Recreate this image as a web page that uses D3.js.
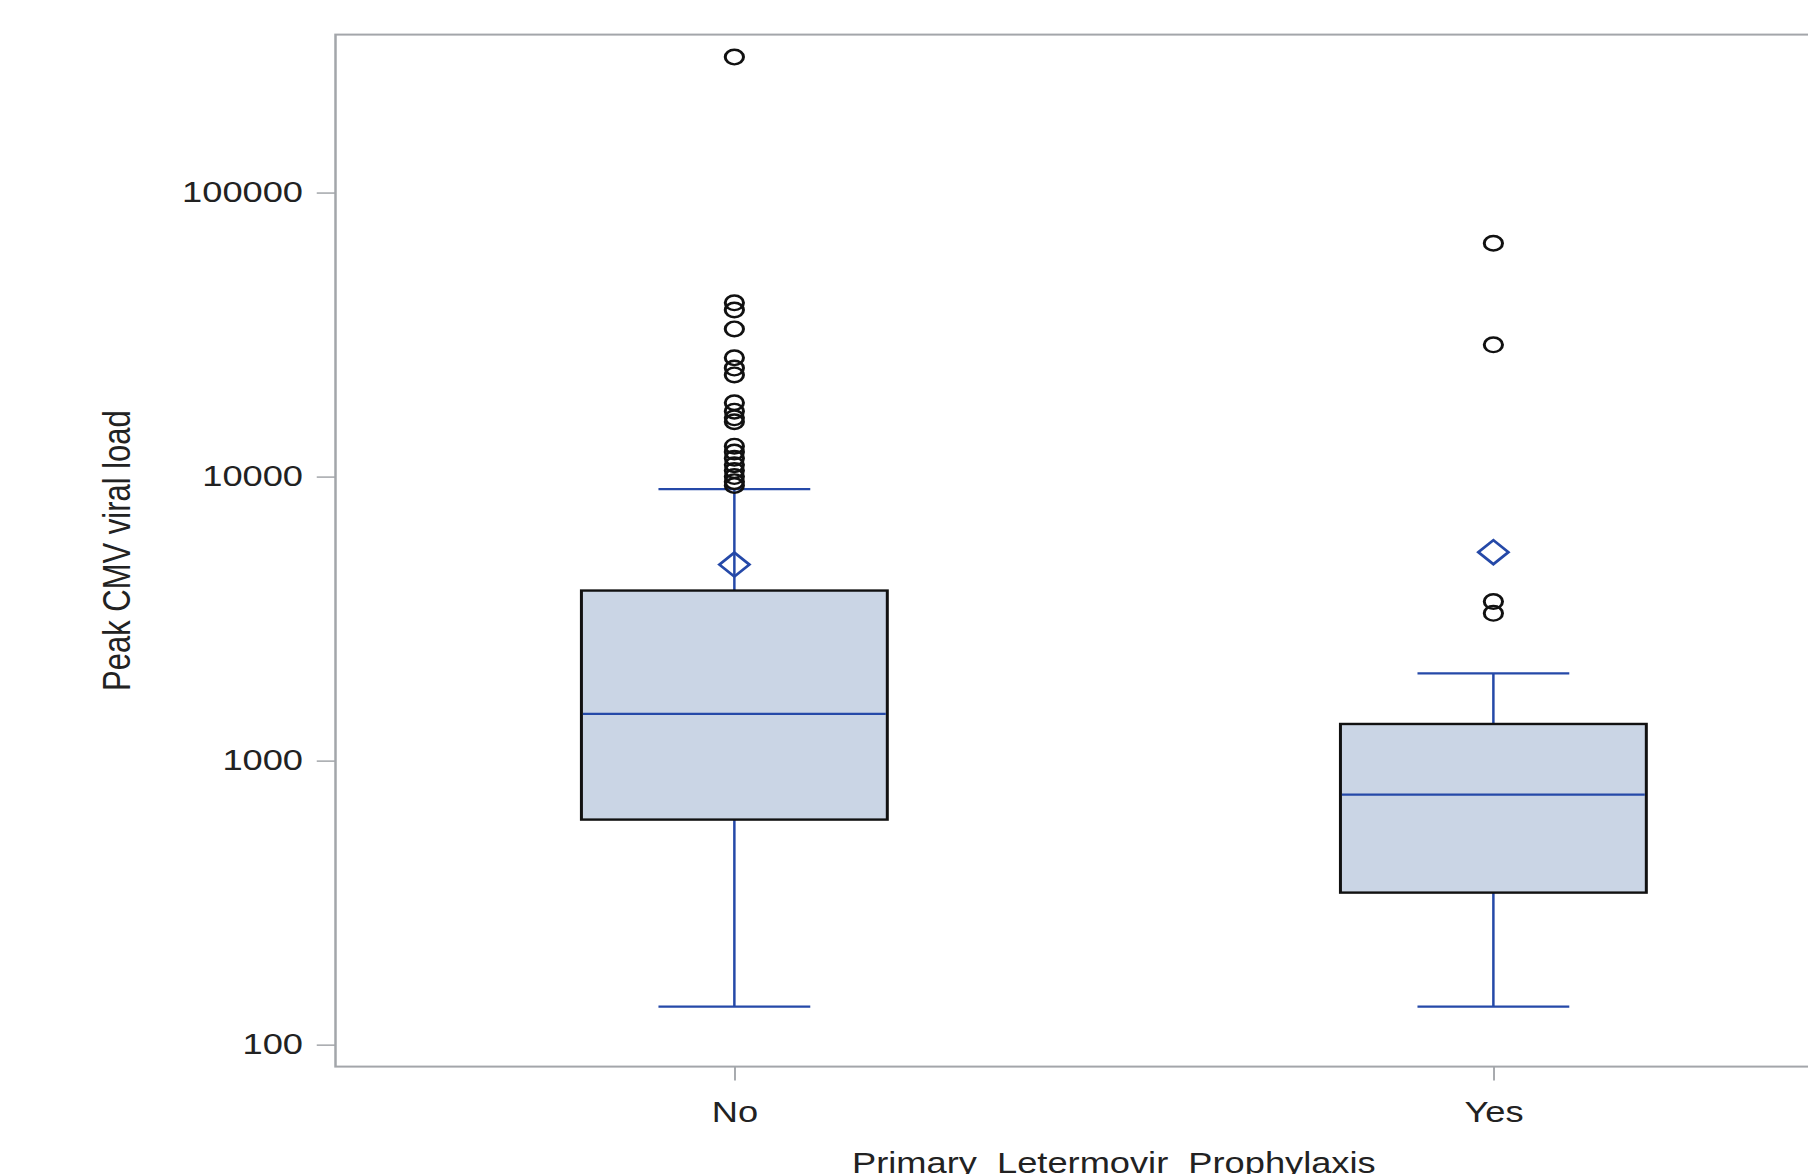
<!DOCTYPE html>
<html lang="en">
<head>
<meta charset="utf-8">
<title>Peak CMV viral load</title>
<script src="https://d3js.org/d3.v7.min.js"></script>
<style>
body { margin: 0; background: #fff; overflow: hidden; }
svg { display: block; }
text { font-family: "Liberation Sans", Arial, sans-serif; fill: #222; }
</style>
</head>
<body>
<svg id="chart"></svg>
<script>
// box statistics per group
var groups = ["No", "Yes"];
var whiskerLow = [136, 136];
var q1 = [620, 343];
var median = [1460, 759];
var q3 = [3970, 1346];
var whiskerHigh = [9030, 2030];
var means = [4900, 5420];

var outliersNo = [300000, 40900, 38600, 33100, 26200, 24100, 22800, 18200, 17000,
                  16100, 15600, 12800, 12200, 11600, 11000, 10500, 10000, 9600, 9300];
var outliersYes = [66300, 29100, 3630, 3300];

var yTicks = [100, 1000, 10000, 100000];

// the picture is stretched sideways, so draw in an inner space and stretch it
var W = 1808, H = 1174, stretch = 1.25;
var iw = W / stretch;

var svg = d3.select("#chart")
    .attr("width", W)
    .attr("height", H)
    .attr("viewBox", "0 0 " + iw + " " + H)
    .attr("preserveAspectRatio", "none");

var x = d3.scalePoint()
    .domain(groups)
    .range([268.4, 1513.8])
    .padding(0.5255);

var y = d3.scaleLog()
    .domain([83.7, 359900])
    .range([1066.6, 34.6]);

var step = x.step(),
    boxW = step * 0.403,
    capW = step * 0.2;

var blue = "#2549a8";

// frame
svg.append("rect")
    .attr("x", x.range()[0])
    .attr("y", y.range()[1])
    .attr("width", x.range()[1] - x.range()[0])
    .attr("height", y.range()[0] - y.range()[1])
    .attr("fill", "none")
    .attr("stroke", "#a3a6aa")
    .attr("stroke-width", 2);

// axes
var yAxis = svg.append("g")
    .attr("transform", "translate(" + x.range()[0] + ",0)")
    .call(d3.axisLeft(y).tickValues(yTicks).tickFormat(d3.format("d")).tickSize(15).tickPadding(11));

var xAxis = svg.append("g")
    .attr("transform", "translate(0," + y.range()[0] + ")")
    .call(d3.axisBottom(x).tickSize(14).tickPadding(21));

[yAxis, xAxis].forEach(function(g) {
  g.select(".domain").remove();
  g.selectAll(".tick line").attr("stroke", "#a3a6aa").attr("stroke-width", 1.5);
  g.selectAll(".tick text").attr("font-size", 29).attr("fill", "#222")
      .style("font-family", "'Liberation Sans', Arial, sans-serif");
});

// axis titles
svg.append("text")
    .attr("transform", "translate(104," + (y.range()[0] + y.range()[1]) / 2 + ") rotate(-90)")
    .attr("text-anchor", "middle")
    .attr("font-size", 31)
    .text("Peak CMV viral load");

svg.append("text")
    .attr("x", (x.range()[0] + x.range()[1]) / 2)
    .attr("y", 1173)
    .attr("text-anchor", "middle")
    .attr("font-size", 29)
    .text("Primary_Letermovir_Prophylaxis");

var stats = groups.map(function(g, i) {
  return { g: g, lo: whiskerLow[i], q1: q1[i], med: median[i], q3: q3[i], hi: whiskerHigh[i], mean: means[i] };
});

var box = svg.selectAll(".box")
    .data(stats)
  .enter().append("g")
    .attr("class", "box");

// whiskers
box.append("line")
    .attr("x1", function(d) { return x(d.g); })
    .attr("x2", function(d) { return x(d.g); })
    .attr("y1", function(d) { return y(d.q3); })
    .attr("y2", function(d) { return y(d.hi); })
    .attr("stroke", blue).attr("stroke-width", 2);

box.append("line")
    .attr("x1", function(d) { return x(d.g); })
    .attr("x2", function(d) { return x(d.g); })
    .attr("y1", function(d) { return y(d.q1); })
    .attr("y2", function(d) { return y(d.lo); })
    .attr("stroke", blue).attr("stroke-width", 2);

box.selectAll(".cap")
    .data(function(d) { return [{ g: d.g, v: d.hi }, { g: d.g, v: d.lo }]; })
  .enter().append("line")
    .attr("class", "cap")
    .attr("x1", function(d) { return x(d.g) - capW / 2; })
    .attr("x2", function(d) { return x(d.g) + capW / 2; })
    .attr("y1", function(d) { return y(d.v); })
    .attr("y2", function(d) { return y(d.v); })
    .attr("stroke", blue).attr("stroke-width", 2.2);

// boxes
box.append("rect")
    .attr("x", function(d) { return x(d.g) - boxW / 2; })
    .attr("y", function(d) { return y(d.q3); })
    .attr("width", boxW)
    .attr("height", function(d) { return y(d.q1) - y(d.q3); })
    .attr("fill", "#cad5e5")
    .attr("stroke", "#111")
    .attr("stroke-width", 2.4);

// medians
box.append("line")
    .attr("x1", function(d) { return x(d.g) - boxW / 2 + 1.2; })
    .attr("x2", function(d) { return x(d.g) + boxW / 2 - 1.2; })
    .attr("y1", function(d) { return y(d.med); })
    .attr("y2", function(d) { return y(d.med); })
    .attr("stroke", blue).attr("stroke-width", 2.2);

// means
box.append("path")
    .attr("d", function(d) {
      var cx = x(d.g), cy = y(d.mean), r = 12;
      return "M" + (cx - r) + "," + cy + "L" + cx + "," + (cy - r) + "L" + (cx + r) + "," + cy + "L" + cx + "," + (cy + r) + "Z";
    })
    .attr("fill", "none")
    .attr("stroke", blue)
    .attr("stroke-width", 2.5);

// outliers
var outliers = outliersNo.map(function(v) { return { g: "No", v: v }; })
    .concat(outliersYes.map(function(v) { return { g: "Yes", v: v }; }));

svg.selectAll(".outlier")
    .data(outliers)
  .enter().append("circle")
    .attr("class", "outlier")
    .attr("cx", function(d) { return x(d.g); })
    .attr("cy", function(d) { return y(d.v); })
    .attr("r", 7.3)
    .attr("fill", "none")
    .attr("stroke", "#111")
    .attr("stroke-width", 2.4);
</script>
</body>
</html>
